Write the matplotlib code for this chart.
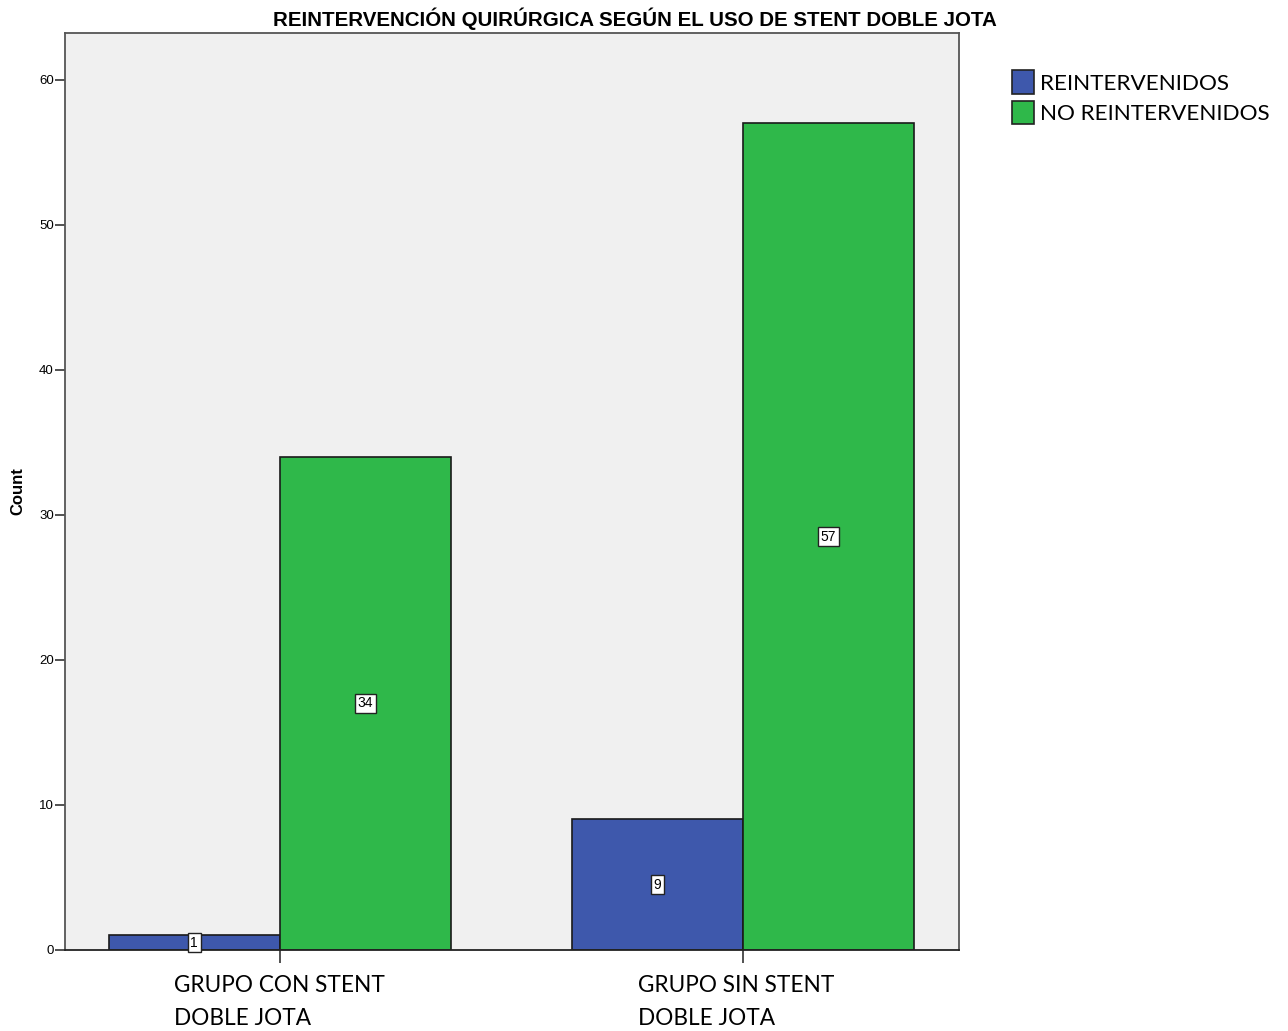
import matplotlib
matplotlib.use("Agg")
import matplotlib.pyplot as plt
import matplotlib.transforms as mtransforms
import numpy as np
from matplotlib.patches import Patch

# Data
groups = ["GRUPO CON STENT\nDOBLE JOTA", "GRUPO SIN STENT\nDOBLE JOTA"]
series_names = ["REINTERVENIDOS", "NO REINTERVENIDOS"]
reintervenidos = [1, 9]
no_reintervenidos = [34, 57]
yticks = [0, 10, 20, 30, 40, 50, 60]

colors = ["#3E58AC", "#2FB84A"]
bar_w = 0.37

fig = plt.figure(figsize=(12.88, 10.31), dpi=100)
ax = fig.add_axes([0.0505, 0.0786, 0.6941, 0.8894])
ax.set_facecolor("#F0F0F0")

x = np.arange(len(groups))
b1 = ax.bar(x - bar_w, reintervenidos, width=bar_w, align="edge", color=colors[0],
            edgecolor="#1a1a1a", linewidth=1.2)
b2 = ax.bar(x, no_reintervenidos, width=bar_w, color=colors[1], align="edge",
            edgecolor="#1a1a1a", linewidth=1.2)

# Value labels in the middle of each bar
for bars, vals in ((b1, reintervenidos), (b2, no_reintervenidos)):
    for r, v in zip(bars, vals):
        ax.text(r.get_x() + r.get_width() / 2, v / 2, str(v),
                ha="center", va="center", fontsize=10, family="Liberation Sans",
                bbox=dict(boxstyle="square,pad=0.2", facecolor="white",
                          edgecolor="#222222", linewidth=1.0))

ax.set_xlim(-0.464, 1.467)
ax.set_ylim(0, 63.24)
ax.set_yticks(yticks)
ax.set_yticklabels([str(t) for t in yticks], fontsize=9.5, family="Liberation Sans")
ax.tick_params(axis="y", length=7, width=1.2, color="#333333", pad=1)
ax.set_xticks(x)
ax.set_xticklabels(groups, fontsize=16.3, family="Lato", linespacing=1.68,
                   multialignment="left")
ax.tick_params(axis="x", length=9, width=1.2, color="#333333", pad=9)
# second category label sits slightly left of its tick
lbls = ax.get_xticklabels()
lbls[1].set_transform(lbls[1].get_transform() +
                      mtransforms.ScaledTranslation(-0.07, 0, fig.dpi_scale_trans))

for s in ax.spines.values():
    s.set_color("#555555")
    s.set_linewidth(1.3)
ax.spines["bottom"].set_color("#222222")

ax.set_ylabel("Count", fontsize=12, fontweight="bold", family="Liberation Sans",
              labelpad=10)

fig.text(0.493, 0.982, "REINTERVENCIÓN QUIRÚRGICA SEGÚN EL USO DE STENT DOBLE JOTA",
         ha="center", va="center", fontsize=14.8, fontweight="bold",
         family="Liberation Sans")

handles = [Patch(facecolor=c, edgecolor="#222222", linewidth=1.2) for c in colors]
fig.legend(handles, series_names, loc="upper left",
           bbox_to_anchor=(0.786, 0.932), frameon=False,
           prop={"family": "Lato", "size": 16.2},
           handlelength=0.95, handleheight=1.25, handletextpad=0.3,
           labelspacing=0.3, borderaxespad=0, borderpad=0)

fig.savefig("out.png", dpi=100)
